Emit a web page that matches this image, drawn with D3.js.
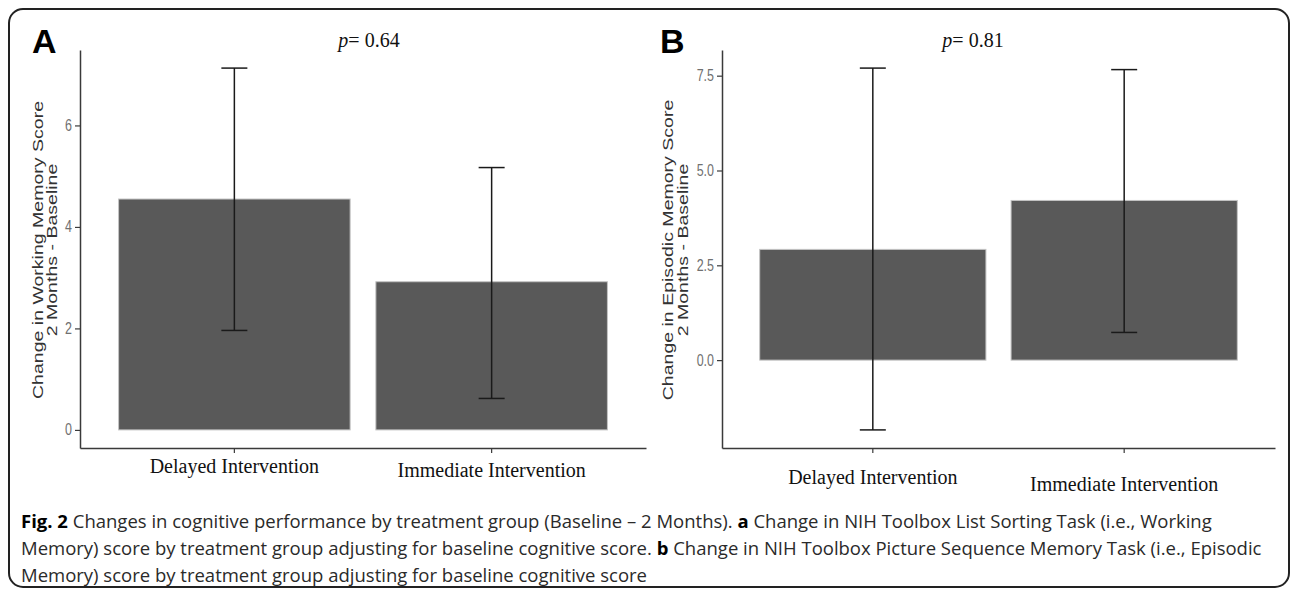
<!DOCTYPE html>
<html>
<head>
<meta charset="utf-8">
<script src="https://cdn.jsdelivr.net/npm/d3@7"></script>
<style>
body { margin: 0; background: #fff; }
svg { display: block; }
</style>
</head>
<body>
<script>
var groups = ["Delayed Intervention", "Immediate Intervention"];

// panel A - working memory (mean change, lower / upper error bar)
var meansA = [4.55, 2.92],
    lowA = [1.96, 0.62],
    highA = [7.13, 5.17],
    ticksA = [0, 2, 4, 6];

// panel B - episodic memory
var meansB = [2.92, 4.21],
    lowB = [-1.84, 0.73],
    highB = [7.70, 7.66],
    ticksB = [0, 2.5, 5, 7.5];

var pValues = ["0.64", "0.81"],
    panelLetters = ["A", "B"],
    yTitlesA = ["Change in Working Memory Score", "2 Months - Baseline"],
    yTitlesB = ["Change in Episodic Memory Score", "2 Months - Baseline"];

var captionLines = [
    [["Fig. 2", true], [" Changes in cognitive performance by treatment group (Baseline \u2013 2 Months). ", false], ["a", true], [" Change in NIH Toolbox List Sorting Task (i.e., Working", false]],
    [["Memory) score by treatment group adjusting for baseline cognitive score. ", false], ["b", true], [" Change in NIH Toolbox Picture Sequence Memory Task (i.e., Episodic", false]],
    [["Memory) score by treatment group adjusting for baseline cognitive score", false]]
];

var svgWidth = 1292,
    svgHeight = 590,
    plotTop = 50,
    plotBottom = 448;

var svg = d3.select("body").append("svg")
    .attr("width", svgWidth)
    .attr("height", svgHeight);

// outer frame
svg.append("rect")
    .attr("x", 9).attr("y", 9)
    .attr("width", 1280).attr("height", 578)
    .attr("rx", 14)
    .attr("fill", "none")
    .attr("stroke", "#222")
    .attr("stroke-width", 2);

var panels = [
    { left: 80, right: 646, means: meansA, low: lowA, high: highA, ticks: ticksA, fmt: d3.format("d"),
      titles: yTitlesA, titleX: [43, 57], letterX: 32, pX: 369, labelDrop: [-11, -7] },
    { left: 722, right: 1275, means: meansB, low: lowB, high: highB, ticks: ticksB, fmt: d3.format(".1f"),
      titles: yTitlesB, titleX: [673, 688], letterX: 660, pX: 973, labelDrop: [0, 7] }
];

panels.forEach(function(p, i) { drawPanel(p, i); });
drawCaption();

function drawPanel(p, i) {
    var x = d3.scaleBand().domain(groups)
        .range([p.left, p.right])
        .paddingInner(0.1)
        .paddingOuter(0.15);

    var lo = Math.min(0, d3.min(p.low)),
        hi = Math.max(d3.max(p.high), d3.max(p.means)),
        pad = (hi - lo) * 0.05;
    var y = d3.scaleLinear().domain([lo - pad, hi + pad]).range([plotBottom, plotTop]);

    var g = svg.append("g");

    // bars
    g.selectAll(".bar")
        .data(groups)
        .enter().append("rect")
        .attr("class", "bar")
        .attr("x", function(d) { return x(d); })
        .attr("width", x.bandwidth())
        .attr("y", function(d, j) { return y(Math.max(0, p.means[j])); })
        .attr("height", function(d, j) { return Math.abs(y(0) - y(p.means[j])); })
        .attr("fill", "#595959")
        .attr("stroke", "#c4c4c4")
        .attr("stroke-width", 1);

    // error bars
    var cx = function(d) { return x(d) + x.bandwidth() / 2; };
    var capHalf = 13;
    var err = g.selectAll(".err").data(groups).enter().append("g").attr("class", "err")
        .attr("stroke", "#1a1a1a").attr("stroke-width", 1.5);
    err.append("line")
        .attr("x1", cx).attr("x2", cx)
        .attr("y1", function(d, j) { return y(p.low[j]); })
        .attr("y2", function(d, j) { return y(p.high[j]); });
    err.append("line")
        .attr("x1", function(d) { return cx(d) - capHalf; })
        .attr("x2", function(d) { return cx(d) + capHalf; })
        .attr("y1", function(d, j) { return y(p.high[j]); })
        .attr("y2", function(d, j) { return y(p.high[j]); });
    err.append("line")
        .attr("x1", function(d) { return cx(d) - capHalf; })
        .attr("x2", function(d) { return cx(d) + capHalf; })
        .attr("y1", function(d, j) { return y(p.low[j]); })
        .attr("y2", function(d, j) { return y(p.low[j]); });

    // y axis
    var yAxisGroup = g.append("g")
        .attr("transform", "translate(" + p.left + ",0)")
        .call(d3.axisLeft(y).tickValues(p.ticks).tickFormat(p.fmt).tickSize(5).tickSizeOuter(0).tickPadding(3));
    yAxisGroup.select(".domain").attr("stroke", "#3a3a3a").attr("stroke-width", 1.5);
    yAxisGroup.selectAll(".tick line").attr("stroke", "#3a3a3a").attr("stroke-width", 1.2);
    yAxisGroup.selectAll(".tick text")
        .attr("fill", "#707070")
        .style("font-family", "'Liberation Sans', Arial, sans-serif")
        .style("font-size", "12.5px")
        .attr("transform", "scale(1,1.25)");

    // x axis
    var xAxisGroup = g.append("g")
        .attr("transform", "translate(0," + plotBottom + ")")
        .call(d3.axisBottom(x).tickSize(5).tickSizeOuter(0).tickPadding(17));
    xAxisGroup.select(".domain").attr("stroke", "#3a3a3a").attr("stroke-width", 1.5);
    xAxisGroup.selectAll(".tick line").attr("stroke", "#3a3a3a").attr("stroke-width", 1.2);
    xAxisGroup.selectAll(".tick text")
        .attr("fill", "#111")
        .style("font-family", "'Liberation Serif', 'Times New Roman', serif")
        .style("font-size", "20px")
        .attr("dy", function(d, j) { return (0.71 * 20 + p.labelDrop[j]) + "px"; });

    // y axis title, two lines
    var midY = 250;
    p.titles.forEach(function(t, k) {
        svg.append("text")
            .attr("transform", "translate(" + p.titleX[k] + "," + midY + ") rotate(-90) scale(1.26,1)")
            .attr("text-anchor", "middle")
            .style("font-family", "'Liberation Sans', Arial, sans-serif")
            .style("font-size", "15.5px")
            .attr("fill", "#333")
            .text(t);
    });

    // panel letter
    svg.append("text")
        .attr("x", p.letterX).attr("y", 53)
        .style("font-family", "'Liberation Sans', Arial, sans-serif")
        .style("font-weight", "bold")
        .style("font-size", "34px")
        .attr("fill", "#000")
        .text(panelLetters[i]);

    // p value
    var pt = svg.append("text")
        .attr("x", p.pX).attr("y", 47)
        .attr("text-anchor", "middle")
        .style("font-family", "'Liberation Serif', 'Times New Roman', serif")
        .style("font-size", "20px")
        .attr("fill", "#111");
    pt.append("tspan").style("font-style", "italic").text("p");
    pt.append("tspan").text("= " + pValues[i]);
}

function drawCaption() {
    var baselines = [528, 555, 582];
    captionLines.forEach(function(line, k) {
        var t = svg.append("text")
            .attr("x", 21).attr("y", baselines[k])
            .style("font-family", "'Open Sans', 'Noto Sans', sans-serif")
            .style("font-size", "18.5px")
            .attr("fill", "#2a2a2a");
        line.forEach(function(seg) {
            t.append("tspan")
                .style("font-weight", seg[1] ? "bold" : "normal")
                .attr("fill", seg[1] ? "#000" : "#2a2a2a")
                .text(seg[0]);
        });
    });
}
</script>
</body>
</html>
